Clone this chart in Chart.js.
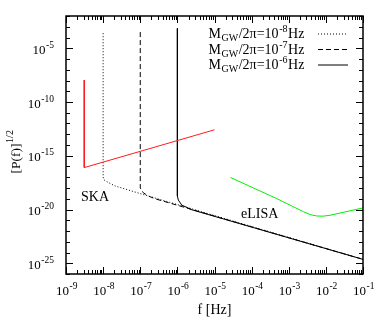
<!DOCTYPE html>
<html><head><meta charset="utf-8">
<script src="https://cdn.jsdelivr.net/npm/chart.js@4"></script>
<style>html,body{margin:0;padding:0;background:#fff}</style>
</head><body>
<div style="width:390px;height:319px"><canvas id="c" width="390" height="319"></canvas></div>
<script>
// ---- axis ranges and tick labels ----
const xMin = 1e-9, xMax = 1e-1, yMin = 1e-26, yMax = 1e-2;
const xTickExps = [-9, -8, -7, -6, -5, -4, -3, -2, -1];
const yTickExps = [-25, -20, -15, -10, -5];
const xTitle = 'f [Hz]';
const yTitleMain = '[P(f)]', yTitleSup = '1/2';
const legendExps = [-8, -7, -6];
const annSKA = 'SKA', annLISA = 'eLISA';

// ---- series ----
const skaF = [3.1e-9, 3.1e-9, 1.0e-5];
const skaP = [1.1e-8, 7.9e-17, 2.6e-13];

const lisaF = [2.7e-5, 4.7e-4, 2.47e-3, 3.73e-3, 5.66e-3, 8.4e-3, 1.29e-2, 3.27e-2, 1.0e-1];
const lisaP = [9.5e-18, 1.05e-19, 6.3e-21, 3.4e-21, 2.5e-21, 2.4e-21, 2.9e-21, 5.9e-21, 1.4e-20];

const m8F = [1e-8, 1e-8, 1.04e-8, 1.25e-8, 2.1e-8, 4.8e-8, 1.35e-7, 1e-1];
const m8P = [2.5e-4, 1.1e-17, 6.0e-18, 3.9e-18, 1.55e-18, 6.5e-19, 2.2e-19, 2.3e-25];

const m7F = [1e-7, 1e-7, 1.21e-7, 1.65e-7, 2.5e-7, 1e-1];
const m7P = [3.2e-4, 1.0e-18, 3.6e-19, 1.8e-19, 1.0e-19, 2.3e-25];

const m6F = [1e-6, 1e-6, 1.06e-6, 1.31e-6, 2.43e-6, 1e-1];
const m6P = [7.0e-4, 1.8e-19, 7.6e-20, 2.6e-20, 9.5e-21, 2.3e-25];

function pts(fs, ps) { return fs.map((f, i) => ({x: f, y: ps[i]})); }

const FAM = '"Liberation Serif", "Times New Roman", serif';
const F = s => s + 'px ' + FAM;

const deco = {
  id: 'deco',
  afterDraw(chart) {
    const ctx = chart.ctx, a = chart.chartArea, xs = chart.scales.x, ys = chart.scales.y;
    ctx.save();
    ctx.strokeStyle = '#000'; ctx.fillStyle = '#000'; ctx.lineWidth = 1;
    const line = (x1, y1, x2, y2) => { ctx.beginPath(); ctx.moveTo(x1, y1); ctx.lineTo(x2, y2); ctx.stroke(); };
    // x ticks (bottom & top, inward)
    for (let e = -9; e <= -1; e++) {
      for (let k = 1; k <= 9; k++) {
        const v = k * Math.pow(10, e);
        if (v > xMax * 1.0001) break;
        const px = Math.round(xs.getPixelForValue(v)) + 0.5;
        const L = k === 1 ? 7 : 4;
        line(px, a.bottom, px, a.bottom - L);
        line(px, a.top, px, a.top + L);
      }
    }
    // y ticks (left & right)
    for (let e = -26; e <= -2; e++) {
      const py = Math.round(ys.getPixelForValue(Math.pow(10, e))) + 0.5;
      const L = (e % 5 === 0) ? 7 : 4;
      line(a.left, py, a.left + L, py);
      line(a.right, py, a.right - L, py);
    }
    // border
    ctx.lineWidth = 1.5;
    ctx.strokeRect(a.left, a.top, a.right - a.left, a.bottom - a.top);

    ctx.textBaseline = 'alphabetic';
    // x tick labels
    xTickExps.forEach(e => {
      const cx = xs.getPixelForValue(Math.pow(10, e));
      const s = String(e);
      ctx.font = F(13); const w1 = ctx.measureText('10').width;
      ctx.font = F(9.5); const w2 = ctx.measureText(s).width;
      const x0 = cx - (w1 + w2) / 2 + 0.5;
      ctx.textAlign = 'left';
      ctx.font = F(13); ctx.fillText('10', x0, 295);
      ctx.font = F(9.5); ctx.fillText(s, x0 + w1 + 0.5, 289);
    });
    // y tick labels
    yTickExps.forEach(e => {
      const ty = ys.getPixelForValue(Math.pow(10, e));
      const s = String(e);
      ctx.font = F(9.5); const w2 = ctx.measureText(s).width;
      ctx.textAlign = 'right';
      ctx.fillText(s, 54, ty - 0.5);
      ctx.font = F(13); ctx.fillText('10', 54 - w2 - 0.5, ty + 5.5);
    });
    // x title
    ctx.font = F(14); ctx.textAlign = 'center';
    ctx.fillText(xTitle, (a.left + a.right) / 2, 314);
    // y title
    ctx.save();
    ctx.translate(20, 152);
    ctx.rotate(-Math.PI / 2);
    ctx.font = F(13.5); const wm = ctx.measureText(yTitleMain).width;
    ctx.font = F(10); const ws = ctx.measureText(yTitleSup).width;
    ctx.textAlign = 'left';
    const s0 = -(wm + ws) / 2;
    ctx.font = F(13.5); ctx.fillText(yTitleMain, s0, 0);
    ctx.font = F(10); ctx.fillText(yTitleSup, s0 + wm + 0.5, -7);
    ctx.restore();
    // annotations
    ctx.font = F(14); ctx.textAlign = 'left';
    ctx.fillText(annSKA, 81, 201);
    ctx.fillText(annLISA, 241, 218);
    // legend
    const rowsY = [33.5, 49, 64.5];
    const styles = [[1, 2], [5, 3], []];
    legendExps.forEach((e, i) => {
      const parts = [
        {t: 'M', s: 14, dy: 0},
        {t: 'GW', s: 10, dy: 3},
        {t: '/2\u03c0=10', s: 14, dy: 0},
        {t: String(e), s: 10, dy: -6},
        {t: 'Hz', s: 14, dy: 0}
      ];
      let tot = 0;
      parts.forEach(p => { ctx.font = F(p.s); p.w = ctx.measureText(p.t).width + 0.6; tot += p.w; });
      let x = 305 - tot;
      const base = rowsY[i] + 4.5;
      ctx.textAlign = 'left';
      parts.forEach(p => { ctx.font = F(p.s); ctx.fillText(p.t, x, base + p.dy); x += p.w; });
      ctx.lineWidth = 1; ctx.setLineDash(styles[i]);
      line(318, rowsY[i] + 0.5, 348, rowsY[i] + 0.5);
      ctx.setLineDash([]);
    });
    ctx.restore();
  }
};

const common = {showLine: true, pointRadius: 0, borderWidth: 1, fill: false, tension: 0};
new Chart(document.getElementById('c'), {
  type: 'scatter',
  data: {
    datasets: [
      Object.assign({data: pts(skaF, skaP), borderColor: '#ff1a1a'}, common),
      Object.assign({data: pts(lisaF, lisaP), borderColor: '#00f000'}, common),
      Object.assign({data: pts(m8F, m8P), borderColor: '#000', borderDash: [1, 2]}, common),
      Object.assign({data: pts(m7F, m7P), borderColor: '#000', borderDash: [5, 3]}, common),
      Object.assign({data: pts(m6F, m6P), borderColor: '#000'}, common)
    ]
  },
  options: {
    responsive: false, animation: false, devicePixelRatio: 1,
    layout: {padding: {left: 66, right: 27, top: 16, bottom: 45}},
    plugins: {legend: {display: false}, tooltip: {enabled: false}},
    scales: {
      x: {type: 'logarithmic', min: xMin, max: xMax, display: false},
      y: {type: 'logarithmic', min: yMin, max: yMax, display: false}
    }
  },
  plugins: [deco]
});
</script>
</body></html>
